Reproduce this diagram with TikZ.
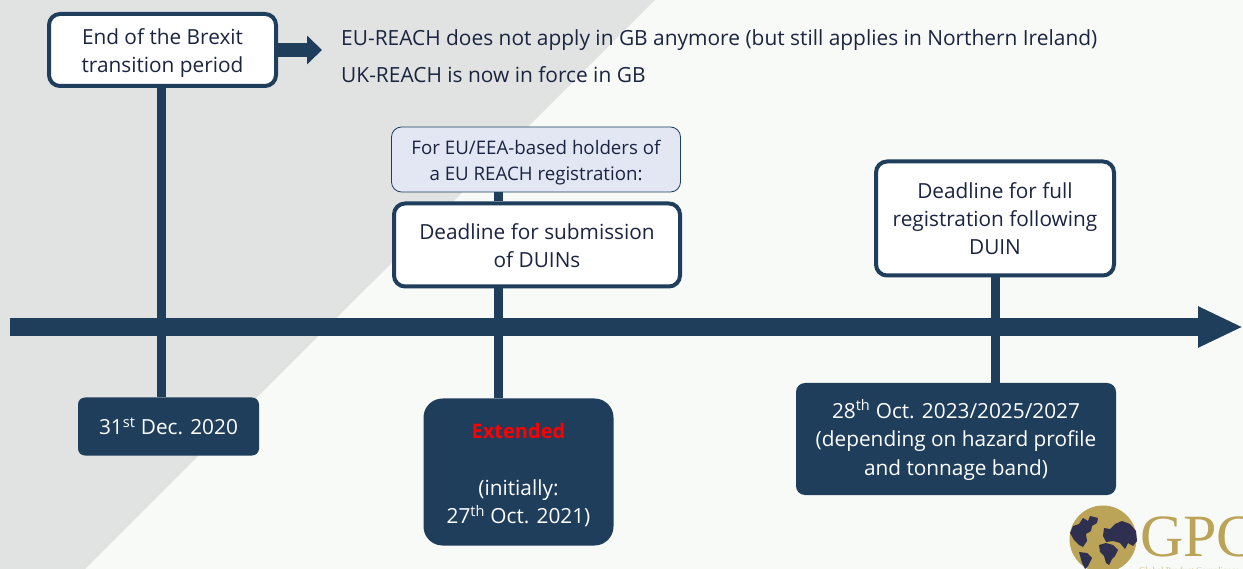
\documentclass[tikz,border=0pt]{standalone}
\usepackage{fontspec}
\setmainfont{Open Sans}
\newfontfamily\logofont{Liberation Serif}
\usetikzlibrary{arrows.meta}
\definecolor{navy}{HTML}{1F3E5C}
\definecolor{bgpale}{HTML}{F7FAF7}
\definecolor{bggrey}{HTML}{E1E3E2}
\definecolor{inktext}{HTML}{1B2440}
\definecolor{paleblue}{HTML}{E3E7F4}
\definecolor{gold}{HTML}{BBA458}
\definecolor{logodark}{HTML}{2F2F4F}
\pgfdeclarelayer{back}
\pgfdeclarelayer{links}
\pgfsetlayers{back,links,main}
\newcommand\topgap[1]{\rule{0pt}{#1}}
\tikzset{
  px/.style={x=1pt,y=-1pt},
  whitebox/.style={draw=navy,line width=4pt,fill=white,rounded corners=11pt,align=center,text=inktext,font=\fontsize{20.8}{28}\selectfont,inner sep=0pt},
  darkbox/.style={fill=navy,align=center,text=white,font=\fontsize{20.8}{28.5}\selectfont,inner sep=0pt},
  notebox/.style={draw=navy,line width=0.8pt,fill=paleblue,rounded corners=10pt,align=center,text=inktext,font=\fontsize{18.7}{26}\selectfont,inner sep=0pt},
  stem/.style={draw=navy,line width=8.5pt},
  plain/.style={anchor=base west,text=inktext,font=\fontsize{20.9}{24}\selectfont,inner sep=0pt},
}
\begin{document}
\begin{tikzpicture}[px]
\useasboundingbox (0,0) rectangle (1243,569);
\begin{pgfonlayer}{back}
\fill[bgpale] (0,0) rectangle (1243,569);
\fill[bggrey] (0,0) -- (655,0) -- (85,569) -- (0,569) -- cycle;
\end{pgfonlayer}

\node[darkbox,rounded corners=7pt,minimum width=181pt,minimum height=58pt] (d1) at (168.5,426.5) {31\textsuperscript{st} Dec. 2020};
\node[darkbox,rounded corners=19pt,minimum width=190pt,minimum height=147pt] (d2) at (518.5,472) {\topgap{21pt}\textcolor{red}{\fontsize{20}{28.5}\selectfont\textbf{Extended}}\\[0pt]\\(initially:\\27\textsuperscript{th} Oct. 2021)};
\node[darkbox,rounded corners=9pt,minimum width=320pt,minimum height=112pt] (d3) at (956,439) {\topgap{20pt}28\textsuperscript{th} Oct. 2023/2025/2027\\(depending on hazard profile\\and tonnage band)};

\coordinate (tlstart) at (10,327);
\coordinate (tlend) at (1243,327);
\coordinate (t1) at (161.5,327);
\coordinate (t2) at (498.5,327);
\coordinate (t3) at (995.5,327);

\node[whitebox,minimum width=227pt,minimum height=72pt] (w1) at (162.5,50) {\topgap{23pt}End of the Brexit\\transition period};
\node[whitebox,minimum width=286pt,minimum height=83pt] (w2) at (537,245) {\topgap{18pt}Deadline for submission\\of DUINs};
\node[whitebox,minimum width=238pt,minimum height=114pt] (w3) at (995,218.5) {Deadline for full\\registration following\\DUIN};
\node[notebox,minimum width=289pt,minimum height=65pt] (n2) at (536,159.5) {\topgap{20pt}For EU/EEA-based holders of\\a EU REACH registration:};

\begin{pgfonlayer}{links}
\draw[stem] (t1 |- w1.south) -- (t1 |- d1.north);
\draw[stem] (t2 |- n2.south) -- (t2 |- w2.north);
\draw[stem] (t2 |- w2.south) -- (t2 |- d2.north);
\draw[stem] (t3 |- w3.south) -- (t3 |- d3.north);
\draw[navy,line width=18pt,-{Triangle[length=45pt,width=38pt]}] (tlstart) -- (tlend);
\coordinate (arrowend) at (322,50);
\draw[navy,line width=14pt,-{Triangle[length=15pt,width=28pt]}] (w1.east) -- (arrowend);
\end{pgfonlayer}

\node[plain] (ta) at (341,45.5) {EU-REACH does not apply in GB anymore (but still applies in Northern Ireland)};
\node[plain] (tb) at (341,83) {UK-REACH is now in force in GB};

% logo
\begin{scope}
\clip (1040,490) rectangle (1243,569);
\fill[gold] (1103,539) circle (33.5pt);
\fill[logodark] (1070,533) -- (1073,526) -- (1079,524) -- (1083,518) -- (1088,521) -- (1090,516) -- (1098,518) -- (1097,523) -- (1092,526) -- (1091,531) -- (1086,534) -- (1087,541) -- (1083,547) -- (1079,545) -- (1074,540) -- cycle;
\fill[logodark] (1079,552) -- (1087,553) -- (1092,558) -- (1088,566) -- (1085,569) -- (1082,563) -- cycle;
\fill[logodark] (1104,528) -- (1110,529) -- (1115,524) -- (1122,521) -- (1130,524) -- (1136,531) -- (1137,541) -- (1133,546) -- (1128,543) -- (1125,549) -- (1120,543) -- (1113,541) -- (1106,542) -- (1103,536) -- cycle;
\fill[logodark] (1099,545) -- (1106,543) -- (1113,545) -- (1118,550) -- (1115,556) -- (1112,559) -- (1109,565) -- (1106,563) -- (1104,556) -- (1100,552) -- cycle;
\node[text=gold,font=\logofont\fontsize{60}{60}\selectfont,anchor=base west,inner sep=0pt] (gpc) at (1140,556) {GPC};
\node[text=gold!70!white,font=\logofont\fontsize{9}{9}\selectfont,anchor=base west,inner sep=0pt] (gpcsub) at (1139,573) {Global Product Compliance};
\end{scope}
\end{tikzpicture}
\end{document}
